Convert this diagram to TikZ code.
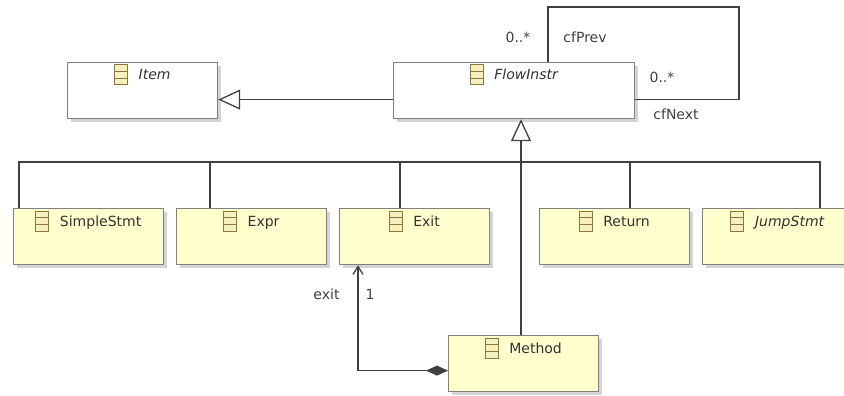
\documentclass[tikz,border=0pt]{standalone}
\usepackage{fontspec}
\setmainfont{DejaVu Sans}
\usetikzlibrary{arrows.meta,calc,shadows}
\definecolor{fillY}{RGB}{255,255,206}
\definecolor{bord}{RGB}{128,128,128}
\definecolor{lin}{RGB}{64,64,64}
\definecolor{icb}{RGB}{140,120,60}
\definecolor{icf}{RGB}{245,240,190}
\definecolor{shad}{RGB}{212,212,212}
\definecolor{txt}{RGB}{50,50,50}
\newcommand\mkcls[6]{%
  \node[#2, minimum width=#5, minimum height=56pt] (#1) at (#3,#4) {};
  \node[ttl, anchor=base] (#1t) at ($(#1.north)+(12,18)$) {#6};
  \pic at ($(#1t.base west)+(-17.5,-5)$) {clsicon};
}
\begin{document}
\begin{tikzpicture}[x=1pt,y=-1pt,
  cls/.style={draw=bord, line width=1.2pt, fill=white, rectangle, inner sep=0pt, anchor=north west,
    drop shadow={shadow xshift=3pt, shadow yshift=-3pt, fill=shad, opacity=1}},
  ycls/.style={cls, fill=fillY},
  ttl/.style={inner sep=0pt, text=txt, font=\fontsize{14}{16}\selectfont},
  lbl/.style={inner sep=0pt, anchor=base, text=lin, font=\fontsize{14}{16}\selectfont},
  con/.style={draw=lin, line width=1.3pt},
  gen/.style={con, -{Triangle[open, length=22pt, width=20pt, fill=white, line width=1.3pt]}},
  clsicon/.pic={
    \draw[icb, fill=icf, line width=1pt] (-6.5,-10) rectangle (6.5,10);
    \draw[icb, line width=0.8pt] (-6.5,-3.3) -- (6.5,-3.3) (-6.5,3.3) -- (6.5,3.3);
  }
]
\useasboundingbox (0,0) rectangle (844,396);
\clip (0,0) rectangle (844,396);

\mkcls{item}{cls}{67}{62}{150pt}{\itshape Item}
\mkcls{flow}{cls}{393}{62}{241pt}{\itshape FlowInstr}
\mkcls{simple}{ycls}{13}{208}{150pt}{SimpleStmt}
\mkcls{expr}{ycls}{176}{208}{150pt}{Expr}
\mkcls{exit}{ycls}{339}{208}{150pt}{Exit}
\mkcls{ret}{ycls}{539}{208}{150pt}{Return}
\mkcls{jump}{ycls}{702}{208}{150pt}{\itshape JumpStmt}
\mkcls{method}{ycls}{448}{335}{150pt}{Method}

% generalization FlowInstr -> Item
\draw[gen] ($(flow.west)+(0,9)$) -- ($(item.east)+(0,9)$);

% self association cfPrev / cfNext
\coordinate (loopTR) at (739,7);
\draw[con] ($(flow.north west)+(155,0)$) |- (loopTR) |- ($(flow.east)+(0,9)$);
\node[lbl] (mPrev) at (518,43) {0..*};
\node[lbl] (rPrev) at (585,43) {cfPrev};
\node[lbl] (mNext) at (662,82) {0..*};
\node[lbl] (rNext) at (676,120) {cfNext};

% generalization tree
\draw[gen] ($(method.north west)+(73,0)$) -- ($(flow.south west)+(128,0)$);
\draw[con] ($(simple.north west)+(6,0)$) -- ++(0,-46) -| ($(jump.north west)+(118,0)$);
\draw[con] ($(expr.north west)+(34,0)$) -- ++(0,-46);
\draw[con] ($(exit.north west)+(61,0)$) -- ++(0,-46);
\draw[con] ($(ret.north west)+(91,0)$) -- ++(0,-46);

% composition Method -> Exit
\draw[con, {Diamond[length=22pt, width=10pt, fill=lin]}-{Straight Barb[length=8pt, width=10pt, line width=1.3pt]}]
  ($(method.west)+(0,7)$) -| ($(exit.south west)+(19,0)$);
\node[lbl] (rExit) at (326.5,299) {exit};
\node[lbl] (mExit) at (370,299) {1};
\end{tikzpicture}
\end{document}
